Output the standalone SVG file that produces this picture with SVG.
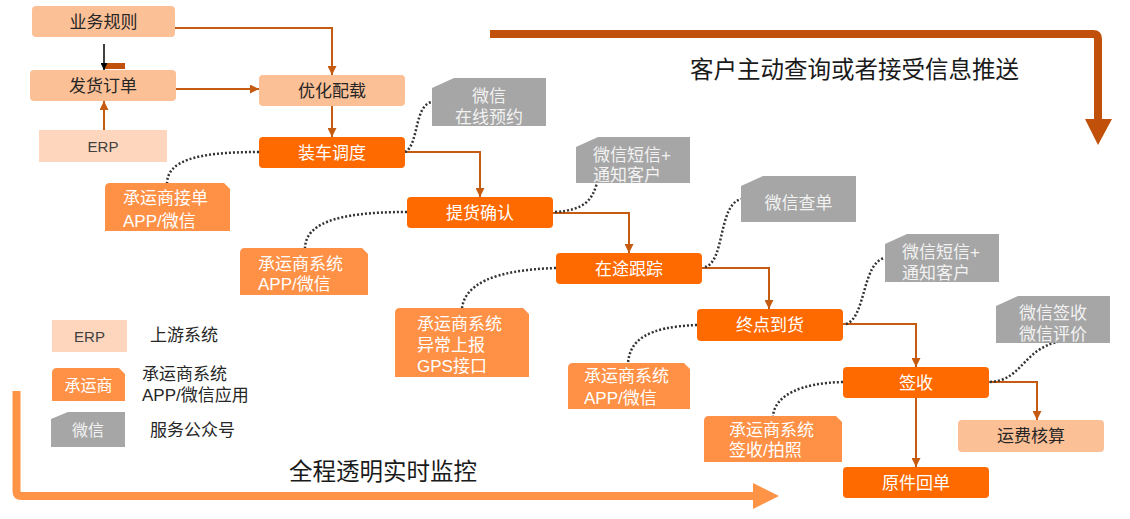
<svg xmlns="http://www.w3.org/2000/svg" width="1130" height="519" viewBox="0 0 1130 519">
<style>
text{font-family:"Liberation Sans","Noto Sans CJK SC",sans-serif;}
.peach{fill:#FCC096;}
.bright{fill:#FF6A00;}
.erp{fill:#FDD6BD;}
.oc{fill:#FF9147;}
.gc{fill:#A6A6A6;}
.tn{font-size:17px;text-anchor:middle;fill:#262626;}
.tw{font-size:17px;text-anchor:middle;fill:#FFFFFF;}
.to{font-size:17px;fill:#FFFFFF;}
.tg{font-size:17px;fill:#F2F2F2;}
.tgc{font-size:17px;fill:#F2F2F2;text-anchor:middle;}
.tl{font-size:17px;fill:#262626;}
.big{font-size:23.5px;fill:#1A1A1A;}
.conn{fill:none;stroke:#C55A11;stroke-width:2;marker-end:url(#ah);}
.dot{fill:none;stroke:#333333;stroke-width:2.5;stroke-dasharray:2 2;}
</style>
<defs>
<marker id="ah" viewBox="0 0 10 10" refX="10" refY="5" markerWidth="10" markerHeight="9" markerUnits="userSpaceOnUse" orient="auto">
<path d="M0,0 L10,5 L0,10 Z" fill="#C55A11"/>
</marker>
<marker id="ahk" viewBox="0 0 10 10" refX="10" refY="5" markerWidth="8" markerHeight="7" markerUnits="userSpaceOnUse" orient="auto">
<path d="M0,0 L10,5 L0,10 Z" fill="#000000"/>
</marker>
</defs>

<!-- big process arrows -->
<g id="bigArrows">
<path d="M490,34 H1093 Q1098,34 1098,39 V121" fill="none" stroke="#C0500A" stroke-width="8"/>
<polygon points="1085,119 1112,119 1098,145" fill="#C0500A"/>
<path d="M16.5,391 V491 Q16.5,496 21.5,496 H756" fill="none" stroke="#FF9447" stroke-width="8"/>
<polygon points="753,483 779,496 753,509" fill="#FF9447"/>
<text class="big" x="690" y="78">客户主动查询或者接受信息推送</text>
<text class="big" x="289" y="480">全程透明实时监控</text>
</g>

<!-- connectors -->
<g id="connectors">
<path class="conn" d="M175,28 H332 V75"/>
<path class="conn" d="M176,89 H259"/>
<path class="conn" d="M104,130 V101"/>
<path class="conn" d="M332,106 V137"/>
<path class="conn" d="M405,152 H480 V197"/>
<path class="conn" d="M553,213 H629 V253"/>
<path class="conn" d="M702,268 H769 V309"/>
<path class="conn" d="M843,324 H916 V367"/>
<path class="conn" d="M916,398 V467"/>
<path class="conn" d="M989,382 H1037 V420"/>
<rect x="104" y="63" width="21" height="6" fill="#C0500A"/>
<path d="M104,44 V70" fill="none" stroke="#000000" stroke-width="1.5" marker-end="url(#ahk)"/>
<!-- dotted links -->
<path class="dot" d="M259,152 C192,152 168,162 167,183"/>
<path class="dot" d="M407,212 C332,212 306,225 305,248"/>
<path class="dot" d="M556,268 C492,270 465,285 462,308"/>
<path class="dot" d="M697,325 C647,327 630,340 628,363"/>
<path class="dot" d="M843,382 C801,383 775,395 773,416"/>
<path class="dot" d="M405,152 C419,145 414,105 432,102"/>
<path class="dot" d="M555,212 C585,210 592,200 597,183"/>
<path class="dot" d="M705,267 C725,262 718,205 741,199"/>
<path class="dot" d="M846,324 C866,318 862,262 885,258"/>
<path class="dot" d="M990,382 C1025,380 1022,345 1068,340"/>
</g>

<!-- main nodes -->
<g id="n-yewuguize"><rect class="peach" x="32" y="6" width="143" height="31" rx="4"/><text class="tn" x="103.5" y="27.5">业务规则</text></g>
<g id="n-fahuodingdan"><rect class="peach" x="30" y="70" width="146" height="31" rx="4"/><text class="tn" x="103" y="91.5">发货订单</text></g>
<g id="n-erp"><rect class="erp" x="39" y="130" width="128" height="32"/><text class="tn" x="103" y="151.5" style="font-size:15px;fill:#404040">ERP</text></g>
<g id="n-youhuapeizai"><rect class="peach" x="259" y="75" width="146" height="31" rx="4"/><text class="tn" x="332" y="96.5">优化配载</text></g>
<g id="n-zhuangche"><rect class="bright" x="259" y="137" width="146" height="31" rx="4"/><text class="tw" x="332" y="158.5">装车调度</text></g>
<g id="n-tihuo"><rect class="bright" x="407" y="197" width="146" height="31" rx="4"/><text class="tw" x="480" y="218.5">提货确认</text></g>
<g id="n-zaitu"><rect class="bright" x="556" y="253" width="146" height="31" rx="4"/><text class="tw" x="629" y="274.5">在途跟踪</text></g>
<g id="n-zhongdian"><rect class="bright" x="697" y="309" width="146" height="32" rx="4"/><text class="tw" x="770" y="331">终点到货</text></g>
<g id="n-qianshou"><rect class="bright" x="843" y="367" width="146" height="31" rx="4"/><text class="tw" x="916" y="388.5">签收</text></g>
<g id="n-yuanjian"><rect class="bright" x="843" y="467" width="146" height="31" rx="4"/><text class="tw" x="916" y="488.5">原件回单</text></g>
<g id="n-yunfei"><rect class="peach" x="958" y="420" width="146" height="32" rx="4"/><text class="tn" x="1031" y="442">运费核算</text></g>

<!-- orange callouts -->
<g id="c-o1"><path class="oc" d="M110,183 H224 L230,189 V231 H105 V188 Q105,183 110,183 Z"/><text class="to" x="123" y="203.5">承运商接单</text><text class="to" x="123" y="226.5">APP/微信</text></g>
<g id="c-o2"><path class="oc" d="M245,248 H362 L368,254 V295 H240 V253 Q240,248 245,248 Z"/><text class="to" x="258" y="270">承运商系统</text><text class="to" x="258" y="290">APP/微信</text></g>
<g id="c-o3"><path class="oc" d="M400,308 H523 L529,314 V377 H395 V313 Q395,308 400,308 Z"/><text class="to" x="417" y="329.5">承运商系统</text><text class="to" x="417" y="350.5">异常上报</text><text class="to" x="417" y="371.5">GPS接口</text></g>
<g id="c-o4"><path class="oc" d="M573,363 H684 L690,369 V409 H568 V368 Q568,363 573,363 Z"/><text class="to" x="584" y="382">承运商系统</text><text class="to" x="584" y="403.5">APP/微信</text></g>
<g id="c-o5"><path class="oc" d="M709,416 H836 L842,422 V462 H704 V421 Q704,416 709,416 Z"/><text class="to" x="729" y="436">承运商系统</text><text class="to" x="729" y="456">签收/拍照</text></g>

<!-- gray callouts -->
<g id="c-g1"><path class="gc" d="M454,78 H546 V126 H432 V88 Z"/><text class="tgc" x="489" y="102">微信</text><text class="tgc" x="489" y="123">在线预约</text></g>
<g id="c-g2"><path class="gc" d="M598,137 H690 V183 H576 V147 Z"/><text class="tg" x="593" y="161">微信短信+</text><text class="tg" x="593" y="181">通知客户</text></g>
<g id="c-g3"><path class="gc" d="M763,176 H856 V222 H741 V186 Z"/><text class="tgc" x="798.5" y="209">微信查单</text></g>
<g id="c-g4"><path class="gc" d="M907,234 H999 V282 H885 V244 Z"/><text class="tg" x="902" y="258">微信短信+</text><text class="tg" x="902" y="279">通知客户</text></g>
<g id="c-g5"><path class="gc" d="M1018,296 H1110 V343 H996 V306 Z"/><text class="tgc" x="1053" y="319">微信签收</text><text class="tgc" x="1053" y="340">微信评价</text></g>

<!-- legend -->
<g id="legend-erp"><rect class="erp" x="52" y="320" width="75" height="32"/><text class="tn" x="89.5" y="341.5" style="font-size:15px;fill:#404040">ERP</text><text class="tl" x="150" y="341">上游系统</text></g>
<g id="legend-carrier"><path class="oc" d="M57,368 H119 L125,374 V401 H52 V373 Q52,368 57,368 Z"/><text class="tw" x="88.5" y="390.5" style="font-size:16px">承运商</text><text class="tl" x="142" y="380">承运商系统</text><text class="tl" x="142" y="401">APP/微信应用</text></g>
<g id="legend-wechat"><path class="gc" d="M68,412 H125 V447 H51 V419 Z"/><text class="tgc" x="88" y="436" style="font-size:16px">微信</text><text class="tl" x="150" y="436">服务公众号</text></g>
</svg>
